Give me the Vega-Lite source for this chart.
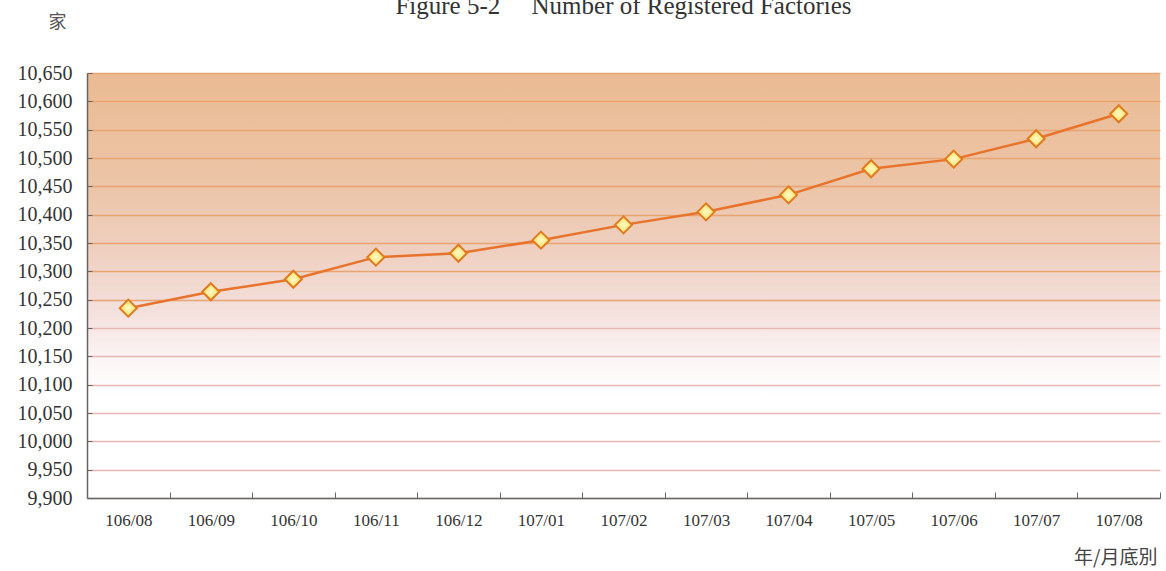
{
  "$schema": "https://vega.github.io/schema/vega-lite/v6.json",
  "width": 1073,
  "height": 425,
  "autosize": {"type": "none"},
  "padding": {"left": 87, "top": 73, "right": 6, "bottom": 73},
  "background": "#ffffff",
  "config": {
    "font": "Liberation Serif"
  },
  "view": {
    "stroke": null,
    "fill": {
      "gradient": "linear",
      "x1": 0, "y1": 0, "x2": 0, "y2": 1,
      "stops": [
        {"offset": 0, "color": "#eabb93"},
        {"offset": 0.25, "color": "#ecc4a6"},
        {"offset": 0.42, "color": "#efd0c0"},
        {"offset": 0.56, "color": "#f4e0dc"},
        {"offset": 0.68, "color": "#fcf6f6"},
        {"offset": 0.76, "color": "#ffffff"},
        {"offset": 1, "color": "#ffffff"}
      ]
    }
  },
  "title": {
    "text": "Figure 5-2\u00a0\u00a0\u00a0\u00a0\u00a0Number of Registered Factories",
    "anchor": "middle",
    "frame": "group",
    "font": "Liberation Serif",
    "fontSize": 25,
    "fontWeight": "normal",
    "color": "#333333",
    "offset": -6
  },
  "data": {
    "values": [
      {"month": "106/08", "factories": 10235},
      {"month": "106/09", "factories": 10264},
      {"month": "106/10", "factories": 10286},
      {"month": "106/11", "factories": 10325},
      {"month": "106/12", "factories": 10332},
      {"month": "107/01", "factories": 10355},
      {"month": "107/02", "factories": 10382},
      {"month": "107/03", "factories": 10405},
      {"month": "107/04", "factories": 10435},
      {"month": "107/05", "factories": 10481},
      {"month": "107/06", "factories": 10498},
      {"month": "107/07", "factories": 10534},
      {"month": "107/08", "factories": 10578}
    ]
  },
  "encoding": {
    "x": {
      "field": "month",
      "type": "nominal",
      "sort": null,
      "scale": {"paddingInner": 0, "paddingOuter": 0},
      "axis": {
        "title": "年/月底別",
        "titleFont": "Noto Sans CJK TC",
        "titleFontSize": 19,
        "titleFontWeight": "normal",
        "titleColor": "#444444",
        "titleAlign": "right",
        "titleBaseline": "middle",
        "titleX": 1070,
        "titleY": 59,
        "labelAngle": 0,
        "labelFont": "Liberation Serif",
        "labelFontSize": 17,
        "labelColor": "#333333",
        "labelPadding": 20,
        "domainColor": "#666666",
        "domainWidth": 1.5,
        "tickColor": "#666666",
        "tickSize": -6,
        "tickBand": "extent",
        "grid": false
      }
    },
    "y": {
      "field": "factories",
      "type": "quantitative",
      "scale": {"domain": [9900, 10650], "nice": false, "zero": false},
      "axis": {
        "title": "家",
        "titleFont": "Noto Sans CJK TC",
        "titleFontSize": 18,
        "titleFontWeight": "normal",
        "titleColor": "#555555",
        "titleAngle": 0,
        "titleAlign": "center",
        "titleBaseline": "middle",
        "titleX": -30,
        "titleY": -51,
        "values": [9900, 9950, 10000, 10050, 10100, 10150, 10200, 10250, 10300, 10350, 10400, 10450, 10500, 10550, 10600, 10650],
        "format": ",d",
        "labelOverlap": false,
        "labelFont": "Liberation Serif",
        "labelFontSize": 20,
        "labelColor": "#333333",
        "labelPadding": 20,
        "domainColor": "#666666",
        "domainWidth": 1.5,
        "tickColor": "#666666",
        "tickSize": -5,
        "grid": true,
        "gridColor": {"condition": {"test": "datum.value >= 10250", "value": "#e8a472"}, "value": "#e9b6b6"},
        "gridWidth": 1.3
      }
    }
  },
  "layer": [
    {
      "mark": {"type": "line", "color": "#e8732c", "strokeWidth": 2.5}
    },
    {
      "mark": {
        "type": "point",
        "shape": "diamond",
        "filled": true,
        "opacity": 1,
        "size": 290,
        "fill": {
          "gradient": "radial",
          "x1": 0.5, "y1": 0.5, "r1": 0, "x2": 0.5, "y2": 0.5, "r2": 0.6,
          "stops": [
            {"offset": 0, "color": "#fffbc8"},
            {"offset": 1, "color": "#f9d84c"}
          ]
        },
        "stroke": "#e07a1f",
        "strokeWidth": 2
      }
    }
  ]
}
